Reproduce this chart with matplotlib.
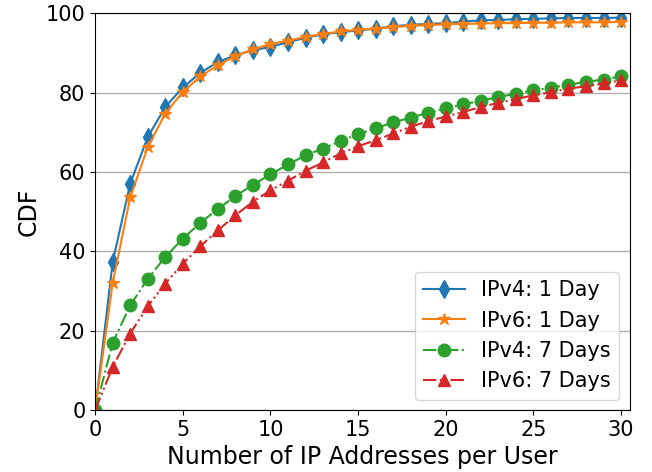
import matplotlib
matplotlib.use("Agg")
import matplotlib.pyplot as plt

# number of IP addresses per user (x) and CDF values in percent
n_addrs = list(range(0, 31))

ipv4_1day = [0, 37.4, 57.1, 68.8, 76.4, 81.3, 85.0, 87.7, 89.4, 90.7, 91.5,
             92.7, 93.8, 94.7, 95.2, 95.7, 96.1, 96.7, 97.1, 97.3, 97.5,
             97.9, 98.2, 98.3, 98.5, 98.6, 98.7, 98.8, 98.8, 98.8, 98.9]
ipv6_1day = [0, 32.1, 53.6, 66.3, 74.7, 80.2, 84.1, 86.9, 89.2, 90.9, 92.2,
             93.1, 94.0, 94.8, 95.4, 95.8, 96.1, 96.5, 96.8, 97.0, 97.2,
             97.3, 97.4, 97.5, 97.5, 97.6, 97.6, 97.7, 97.7, 97.7, 97.8]
ipv4_7days = [0, 17.0, 26.4, 33.1, 38.6, 43.2, 47.2, 50.7, 53.9, 56.8, 59.4,
              61.9, 64.2, 65.9, 67.8, 69.5, 71.0, 72.5, 73.7, 74.9, 76.0,
              77.1, 77.9, 78.9, 79.7, 80.6, 81.2, 82.0, 82.7, 83.3, 84.1]
ipv6_7days = [0, 10.9, 19.3, 26.2, 31.9, 36.9, 41.3, 45.3, 49.1, 52.5, 55.4,
              57.8, 60.3, 62.4, 64.7, 66.5, 68.0, 69.7, 71.4, 72.8, 74.0,
              75.1, 76.4, 77.4, 78.4, 79.3, 80.1, 81.0, 81.6, 82.3, 83.1]

fig = plt.figure(figsize=(6.52, 4.72), dpi=100)
ax = fig.add_axes([0.146, 0.131, 0.82, 0.841])

ms = 9
ax.plot(n_addrs, ipv4_1day, color="tab:blue", linestyle="-", marker="d",
        markersize=ms, label="IPv4: 1 Day")
ax.plot(n_addrs, ipv6_1day, color="tab:orange", linestyle="-", marker="*",
        markersize=ms, label="IPv6: 1 Day")
ax.plot(n_addrs, ipv4_7days, color="tab:green", linestyle="-.", marker="o",
        markersize=ms, label="IPv4: 7 Days")
ax.plot(n_addrs, ipv6_7days, color="tab:red",
        linestyle=(0, (6.4, 1.6, 1.0, 1.6, 1.0, 1.6)), marker="^",
        markersize=ms, label="IPv6: 7 Days")

ax.set_xlim(0, 30.5)
ax.set_ylim(0, 100)
ax.set_xticks([0, 5, 10, 15, 20, 25, 30])
ax.set_yticks([0, 20, 40, 60, 80, 100])
ax.yaxis.grid(True, color="#b0b0b0", linewidth=1)
ax.set_axisbelow(True)
ax.tick_params(labelsize=15)

ax.set_xlabel("Number of IP Addresses per User", fontsize=17)
ax.set_ylabel("CDF", fontsize=17)

ax.legend(loc="lower right", fontsize=15)

fig.savefig("out.png", dpi=100)
